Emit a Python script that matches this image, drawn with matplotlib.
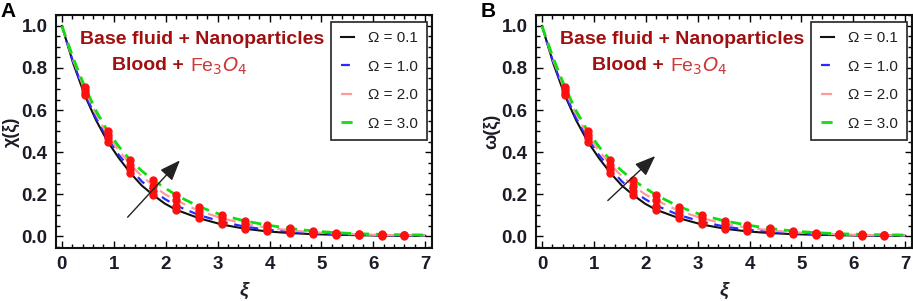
import matplotlib
matplotlib.use("Agg")
import matplotlib.pyplot as plt
from matplotlib.ticker import MultipleLocator

plt.rcParams["font.family"] = ["Liberation Sans", "DejaVu Sans"]

# ---------------------------------------------------------
# Data (both panels show the same profiles)
# ---------------------------------------------------------
xi = [0.0, 0.22, 0.44, 0.66, 0.88, 1.10, 1.32, 1.54, 1.76, 1.98, 2.20,
      2.64, 3.08, 3.52, 3.96, 4.40, 4.84, 5.28, 5.72, 6.16, 6.60, 7.0]

omega_01 = [1.0, 0.82, 0.67, 0.55, 0.45, 0.37, 0.30, 0.24, 0.195, 0.155, 0.125,
            0.085, 0.055, 0.035, 0.022, 0.014, 0.009, 0.006, 0.004, 0.002, 0.001, 0.001]
omega_10 = [1.0, 0.825, 0.68, 0.56, 0.465, 0.385, 0.32, 0.26, 0.215, 0.177, 0.145,
            0.10, 0.068, 0.045, 0.030, 0.020, 0.013, 0.009, 0.006, 0.004, 0.003, 0.002]
omega_20 = [1.0, 0.835, 0.695, 0.58, 0.48, 0.405, 0.34, 0.285, 0.24, 0.20, 0.17,
            0.12, 0.085, 0.058, 0.040, 0.027, 0.018, 0.012, 0.008, 0.005, 0.004, 0.003]
omega_30 = [1.0, 0.845, 0.71, 0.595, 0.50, 0.425, 0.36, 0.31, 0.265, 0.23, 0.195,
            0.14, 0.10, 0.072, 0.052, 0.036, 0.024, 0.016, 0.011, 0.008, 0.006, 0.005]

series_labels = ["\u03a9 = 0.1", "\u03a9 = 1.0", "\u03a9 = 2.0", "\u03a9 = 3.0"]
series_values = [omega_01, omega_10, omega_20, omega_30]

# x positions that carry the red markers (every 0.44)
marker_idx = [2, 4, 6, 8, 10, 11, 12, 13, 14, 15, 16, 17, 18, 19, 20]

panel_letters = ["A", "B"]
y_labels = ["\u03c7(\u03be)", "\u03c9(\u03be)"]
arrow_tails = [(1.23, 0.08), (1.23, 0.16)]
arrow_heads = [(2.31, 0.37), (2.22, 0.39)]

# ---------------------------------------------------------
# Styles
# ---------------------------------------------------------
styles = [
    dict(color="#111111", lw=1.5, ls="-"),
    dict(color="#2a2aff", lw=1.6, ls=(0, (4, 3))),
    dict(color="#ff9a9a", lw=1.6, ls=(0, (5, 3))),
    dict(color="#11dd11", lw=2.0, ls=(0, (4, 2.5))),
]
dark_red = "#a01010"
light_red = "#cc3a3a"
tick_color = "#1c1c28"


def draw_panel(ax, letter, ylabel, tail, head):
    for vals, lab, st in zip(series_values, series_labels, styles):
        ax.plot(xi, vals, label=lab, zorder=2, **st)
    for vals in series_values:
        ax.plot([xi[i] for i in marker_idx], [vals[i] for i in marker_idx],
                ls="none", marker="o", ms=5, color="#ff1010", zorder=3)

    ax.set_xlim(-0.115, 7.13)
    ax.set_ylim(-0.057, 1.052)
    ax.xaxis.set_major_locator(MultipleLocator(1))
    ax.xaxis.set_minor_locator(MultipleLocator(0.2))
    ax.yaxis.set_major_locator(MultipleLocator(0.2))
    ax.yaxis.set_minor_locator(MultipleLocator(0.05))
    ax.yaxis.set_major_formatter(matplotlib.ticker.FormatStrFormatter("%.1f"))
    ax.tick_params(which="both", direction="in", top=True, right=True, width=1)
    ax.tick_params(which="major", length=5, pad=6)
    ax.tick_params(which="minor", length=3)
    for lbl in ax.get_xticklabels() + ax.get_yticklabels():
        lbl.set_fontweight("bold")
        lbl.set_fontsize(13.5)
        lbl.set_color(tick_color)
    for sp in ax.spines.values():
        sp.set_linewidth(1.5)
        sp.set_color("#111111")

    ax.set_xlabel("\u03be", fontsize=14, fontstyle="italic", fontweight="bold",
                  color=tick_color, labelpad=6)
    ax.set_ylabel(ylabel, fontsize=13, fontweight="bold", color=tick_color, labelpad=1)

    ax.text(2.70, 0.935, "Base fluid + Nanoparticles", color=dark_red, fontsize=14,
            fontweight="bold", ha="center", va="center")
    ax.text(2.45, 0.81, "Blood + ", color=dark_red, fontsize=14,
            fontweight="bold", ha="right", va="center")
    ax.text(2.47, 0.81, "Fe$_3$$O_4$", color=light_red, fontsize=14,
            ha="left", va="center")

    ax.annotate("", xy=head, xytext=tail,
                arrowprops=dict(arrowstyle="-|>,head_length=0.9,head_width=0.35",
                                color="#222222", lw=1.0, mutation_scale=14))

    leg = ax.legend(loc="upper right", bbox_to_anchor=(0.987, 0.97), fontsize=11,
                    handlelength=0.9, handletextpad=0.9, labelspacing=0.95,
                    borderpad=0.6, borderaxespad=0, fancybox=False, framealpha=1,
                    edgecolor="#222222")
    leg.get_frame().set_linewidth(1.2)
    for t in leg.get_texts():
        t.set_color("#222222")

    ax.figure.text(ax.get_position().x0 - 0.061, 0.995, letter, fontsize=15,
                   fontweight="bold", ha="left", va="top")


def main():
    fig = plt.figure(figsize=(9.13, 3.01), dpi=100)
    ax_a = fig.add_axes([0.0613, 0.176, 0.4118, 0.774])
    ax_b = fig.add_axes([0.5871, 0.176, 0.4118, 0.774])
    for ax, letter, ylab, tail, head in zip([ax_a, ax_b], panel_letters, y_labels,
                                            arrow_tails, arrow_heads):
        draw_panel(ax, letter, ylab, tail, head)
    fig.savefig("out.png", dpi=100)
    plt.close(fig)


if __name__ == "__main__":
    main()
